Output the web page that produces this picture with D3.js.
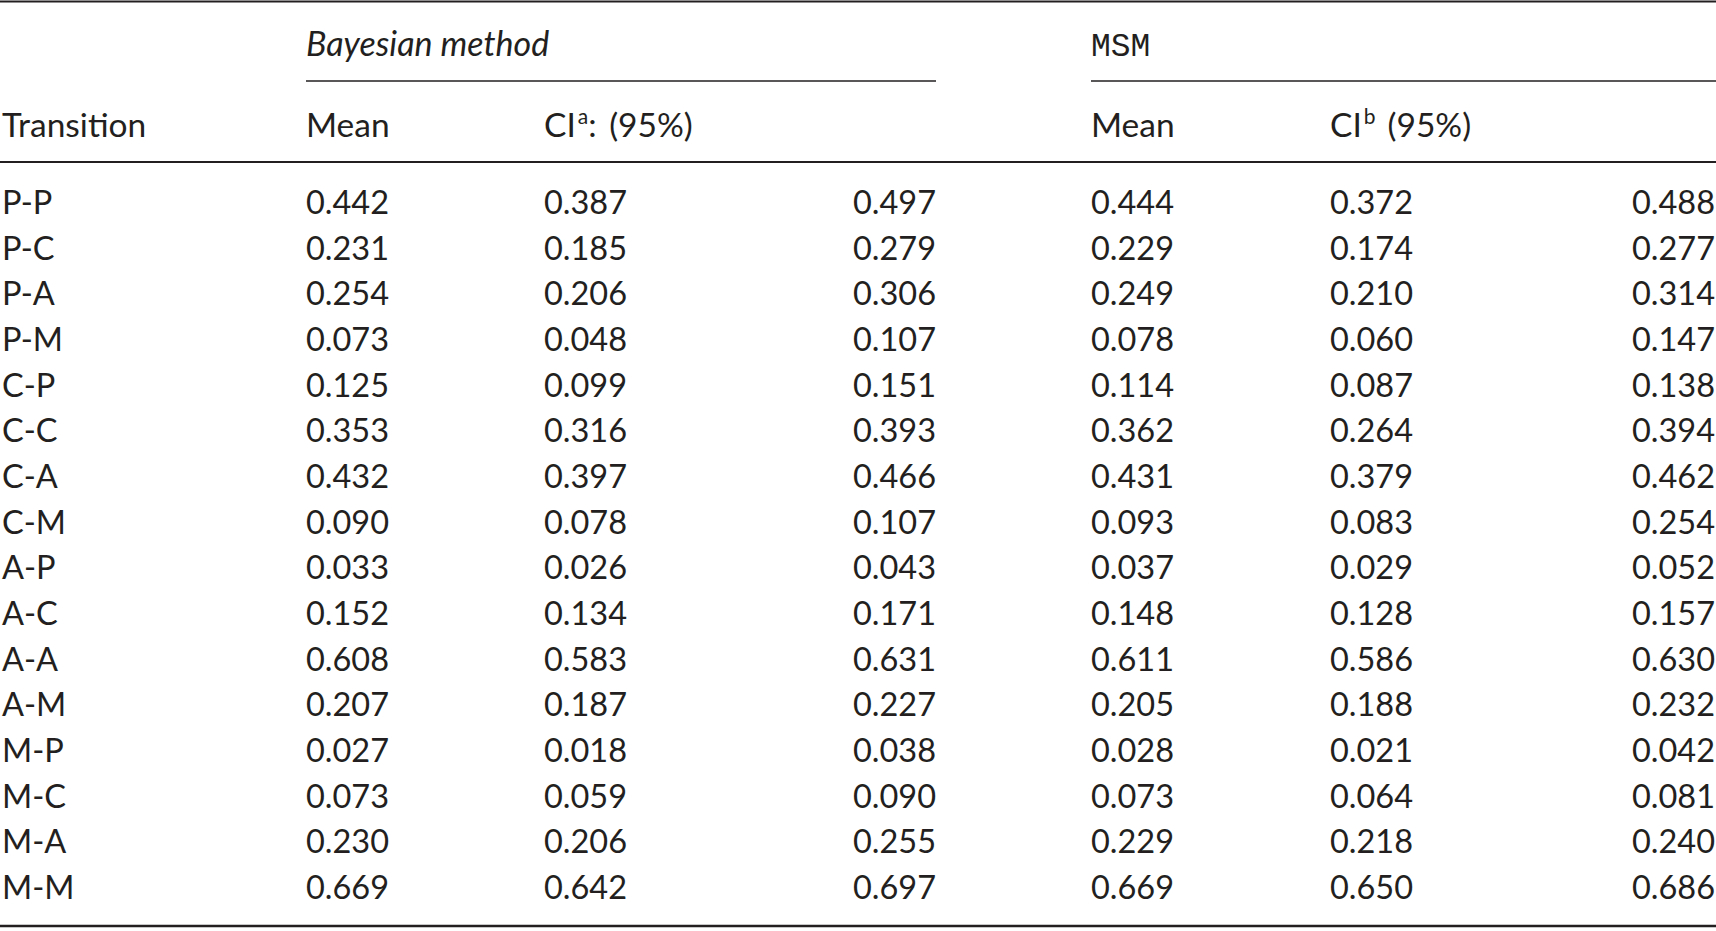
<!DOCTYPE html>
<html>
<head>
<meta charset="utf-8">
<script src="https://cdn.jsdelivr.net/npm/d3@7"></script>
<style>
  body { margin: 0; background: #fff; }
  text { font-family: Lato, "Open Sans", sans-serif; fill: #231f20; }
</style>
</head>
<body>
<svg id="table" width="1716" height="931"></svg>
<script>
// Table values
var transitions = ["P-P", "P-C", "P-A", "P-M", "C-P", "C-C", "C-A", "C-M",
                   "A-P", "A-C", "A-A", "A-M", "M-P", "M-C", "M-A", "M-M"];
var bayesMean = [0.442, 0.231, 0.254, 0.073, 0.125, 0.353, 0.432, 0.090,
                 0.033, 0.152, 0.608, 0.207, 0.027, 0.073, 0.230, 0.669];
var bayesLow  = [0.387, 0.185, 0.206, 0.048, 0.099, 0.316, 0.397, 0.078,
                 0.026, 0.134, 0.583, 0.187, 0.018, 0.059, 0.206, 0.642];
var bayesHigh = [0.497, 0.279, 0.306, 0.107, 0.151, 0.393, 0.466, 0.107,
                 0.043, 0.171, 0.631, 0.227, 0.038, 0.090, 0.255, 0.697];
var msmMean   = [0.444, 0.229, 0.249, 0.078, 0.114, 0.362, 0.431, 0.093,
                 0.037, 0.148, 0.611, 0.205, 0.028, 0.073, 0.229, 0.669];
var msmLow    = [0.372, 0.174, 0.210, 0.060, 0.087, 0.264, 0.379, 0.083,
                 0.029, 0.128, 0.586, 0.188, 0.021, 0.064, 0.218, 0.650];
var msmHigh   = [0.488, 0.277, 0.314, 0.147, 0.138, 0.394, 0.462, 0.254,
                 0.052, 0.157, 0.630, 0.232, 0.042, 0.081, 0.240, 0.686];

var svg = d3.select("#table"),
    width = +svg.attr("width");

var fmt = d3.format(".3f");
var ink = "#231f20";
var fontSize = 32.5;     // body cells
var headSize = 33.5;     // header cells

// Row positions (centre of each row)
var y = d3.scalePoint()
    .domain(transitions)
    .range([202.5, 887.6]);

// Column anchors: x position and text anchor
var columns = [
    {values: bayesMean, x: 306,  anchor: "start"},
    {values: bayesLow,  x: 544,  anchor: "start"},
    {values: bayesHigh, x: 936,  anchor: "end"},
    {values: msmMean,   x: 1091, anchor: "start"},
    {values: msmLow,    x: 1330, anchor: "start"},
    {values: msmHigh,   x: 1715, anchor: "end"}
];

// Rules
function rule(x1, x2, yy, w) {
    svg.append("line")
        .attr("x1", x1).attr("x2", x2)
        .attr("y1", yy).attr("y2", yy)
        .attr("stroke", ink)
        .attr("stroke-width", w);
}
rule(0, width, 1.5, 2);
rule(306, 936, 81, 1.6);
rule(1091, width, 81, 1.6);
rule(0, width, 162, 2);
rule(0, width, 926, 2.6);

// Group headers
svg.append("text")
    .attr("x", 306).attr("y", 44).attr("dy", "0.35em")
    .attr("font-size", 34)
    .attr("font-style", "italic")
    .text("Bayesian method");

svg.append("text")
    .attr("x", 1091).attr("y", 44).attr("dy", "0.35em")
    .attr("font-size", 33)
    .style("font-family", "'Liberation Mono', 'DejaVu Sans Mono', monospace")
    .text("MSM");

// Column headers
var header = svg.append("g").attr("font-size", headSize);
var hy = 125;
header.append("text").attr("x", 2).attr("y", hy).attr("dy", "0.35em").text("Transition");
header.append("text").attr("x", 306).attr("y", hy).attr("dy", "0.35em").text("Mean");
header.append("text").attr("x", 1091).attr("y", hy).attr("dy", "0.35em").text("Mean");

var ciA = header.append("text").attr("x", 544).attr("y", hy).attr("dy", "0.35em");
ciA.append("tspan").text("CI");
ciA.append("tspan").attr("font-size", 21).attr("dx", 2).attr("dy", "-0.6em").text("a");
ciA.append("tspan").attr("dy", "0.38em").text(":");
ciA.append("tspan").attr("dx", 4).text("\u00a0(95%)");

var ciB = header.append("text").attr("x", 1330).attr("y", hy).attr("dy", "0.35em");
ciB.append("tspan").text("CI");
ciB.append("tspan").attr("font-size", 21).attr("dx", 2).attr("dy", "-0.6em").text("b");
ciB.append("tspan").attr("dy", "0.38em").attr("dx", 12).text("(95%)");

// Body
var body = svg.append("g").attr("font-size", fontSize);

body.selectAll(".label")
    .data(transitions)
    .join("text")
    .attr("class", "label")
    .attr("x", 2)
    .attr("y", function (d) { return y(d); })
    .attr("dy", "0.35em")
    .text(function (d) { return d; });

columns.forEach(function (col) {
    body.append("g")
        .selectAll("text")
        .data(col.values)
        .join("text")
        .attr("x", col.x)
        .attr("y", function (d, i) { return y(transitions[i]); })
        .attr("dy", "0.35em")
        .attr("text-anchor", col.anchor)
        .text(function (d) { return fmt(d); });
});
</script>
</body>
</html>
